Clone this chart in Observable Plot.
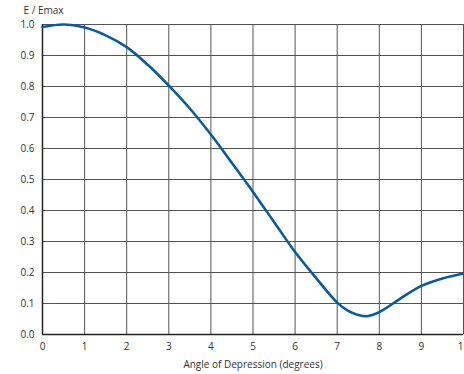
<!DOCTYPE html>
<html><head><meta charset="utf-8">
<script src="https://cdn.jsdelivr.net/npm/d3@7"></script>
<script src="https://cdn.jsdelivr.net/npm/@observablehq/plot@0.6"></script>
<style>
body{margin:0;background:#fff;}
#chart svg{display:block;overflow:visible;}
</style></head>
<body><div id="chart"></div>
<script>
const angle = [0, 0.5, 1, 1.5, 2, 2.5, 3, 3.5, 4, 4.5, 5, 5.5, 6, 6.5, 7, 7.25, 7.5, 7.7, 8, 8.5, 9, 9.5, 10];
const ratio = [0.992, 1.0, 0.99, 0.965, 0.927, 0.87, 0.803, 0.729, 0.645, 0.553, 0.46, 0.363, 0.266, 0.182, 0.103, 0.077, 0.063, 0.059, 0.072, 0.116, 0.157, 0.181, 0.197];
const xTicks = [0,1,2,3,4,5,6,7,8,9,10];
const yTicks = [0,0.1,0.2,0.3,0.4,0.5,0.6,0.7,0.8,0.9,1.0];
const yTitle = "E / Emax";
const xTitle = "Angle of Depression (degrees)";
const data = angle.map((a,i)=>({a, r: ratio[i]}));

const chart = Plot.plot({
  width: 464, height: 374,
  marginLeft: 42, marginRight: 1, marginTop: 24, marginBottom: 40,
  style: {fontFamily: "'Open Sans', sans-serif", fontSize: "10px", color: "#333", background: "#fff"},
  x: {domain: [0,10], ticks: xTicks},
  y: {domain: [0,1], ticks: yTicks},
  marks: [
    Plot.gridX(xTicks, {stroke: "#555", strokeOpacity: 1, strokeWidth: 1}),
    Plot.gridY(yTicks, {stroke: "#555", strokeOpacity: 1, strokeWidth: 1}),
    Plot.axisX(xTicks, {tickSize: 0, tickPadding: 8, label: xTitle, labelAnchor: "center", labelArrow: "none", labelOffset: 33}),
    Plot.axisY(yTicks, {tickSize: 0, tickPadding: 8, tickFormat: d3.format(".1f"), label: null}),
    Plot.text([yTitle], {frameAnchor: "top-left", dx: -19, dy: -14, textAnchor: "start", lineAnchor: "middle", fill: "#333"}),
    Plot.ruleX([0], {stroke: "#222", strokeWidth: 1.5}),
    Plot.ruleY([0], {stroke: "#222", strokeWidth: 1.5}),
    Plot.line(data, {x: "a", y: "r", stroke: "#0a5a9c", strokeWidth: 2.6, curve: "catmull-rom"})
  ]
});
document.getElementById("chart").append(chart);
</script></body></html>
